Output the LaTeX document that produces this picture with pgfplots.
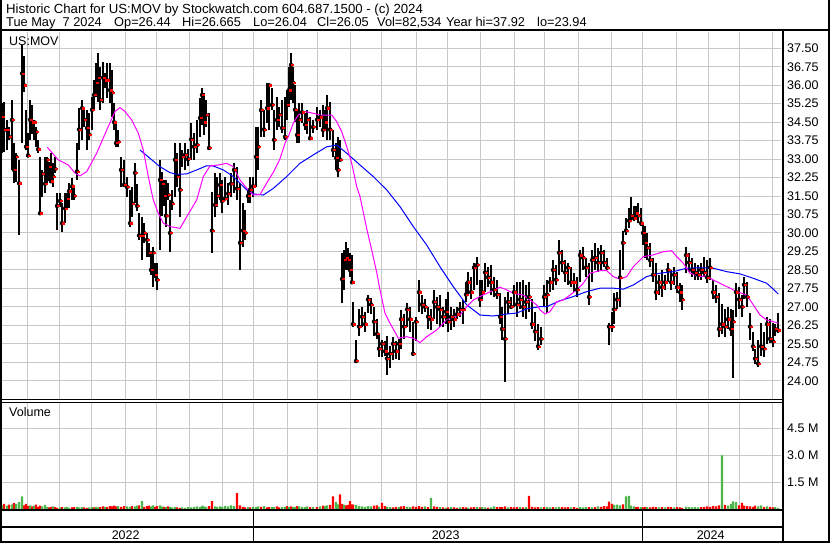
\documentclass[border=0pt]{standalone}
\usepackage{fontspec}
\setmainfont{Liberation Sans}
\usepackage{pgfplots}
\usepackage{pgfplotstable}
\pgfplotsset{compat=1.18}
\definecolor{gridgray}{RGB}{200,200,200}
\definecolor{volred}{RGB}{255,0,0}
\definecolor{volgreen}{RGB}{76,182,76}
\definecolor{mafast}{RGB}{255,0,255}
\definecolor{maslow}{RGB}{0,0,255}

% daily bars: x position, high, low, close, volume (M), up day
\pgfplotstableread{
x hi lo cl v up
2 35.27 33.24 34.72 0.22 1
4 35.33 33.30 34.20 0.30 0
7 34.59 33.37 34.18 0.20 1
9 34.32 33.78 33.90 0.26 0
12 35.40 32.56 34.59 0.28 1
14 33.64 32.02 32.56 0.34 0
16 33.24 32.08 33.10 0.30 1
19 32.97 29.92 32.02 0.40 1
22 37.63 33.64 36.48 0.72 1
24 37.20 35.74 36.00 0.22 0
26 35.00 33.37 33.50 0.30 0
28 34.05 33.10 33.15 0.18 0
30 35.40 33.78 34.60 0.22 1
32 35.20 34.00 34.50 0.16 0
34 34.59 33.78 34.50 0.20 1
36 34.32 33.50 34.10 0.26 0
38 33.78 33.24 33.40 0.14 0
40 33.10 30.73 30.80 0.20 0
42 32.56 31.48 32.40 0.16 1
45 33.10 31.61 32.00 0.24 1
47 33.10 32.02 32.97 0.12 1
49 32.90 32.10 32.70 0.10 0
51 33.24 32.02 32.10 0.14 0
53 32.83 31.88 32.30 0.16 1
55 33.10 32.42 32.60 0.12 0
57 31.62 30.12 31.10 0.08 0
60 31.62 31.06 31.30 0.10 1
62 31.22 30.05 30.40 0.12 0
65 31.62 30.40 31.00 0.10 1
67 31.62 31.00 31.40 0.14 1
69 32.03 31.00 31.70 0.08 1
72 32.23 31.34 31.90 0.10 0
74 31.87 31.34 31.50 0.12 0
77 33.65 32.15 32.50 0.14 1
79 35.07 33.37 34.20 0.10 1
82 35.40 33.78 35.07 0.12 1
84 34.99 34.30 34.60 0.10 0
87 34.99 33.37 34.26 0.08 0
89 34.87 33.78 34.00 0.10 1
92 35.52 34.18 35.00 0.12 1
94 36.21 34.99 35.60 0.10 0
96 36.90 35.52 36.10 0.14 1
98 37.31 35.30 36.30 0.10 1
100 36.74 34.99 35.40 0.12 0
103 36.94 35.28 36.30 0.16 0
105 36.50 35.90 36.20 0.14 1
107 36.90 35.50 36.20 0.12 0
110 36.90 35.28 35.80 0.18 0
112 36.60 34.70 35.70 0.16 0
114 35.28 34.18 34.50 0.20 0
116 34.47 33.49 33.65 0.16 0
118 34.18 33.49 33.70 0.18 1
121 33.09 31.87 32.56 0.14 0
124 32.97 31.87 31.95 0.18 0
127 32.27 31.46 31.87 0.16 1
130 31.75 30.24 30.40 0.14 1
132 31.87 30.65 31.20 0.18 0
135 32.84 31.22 32.44 0.16 1
137 32.00 30.90 31.10 0.20 1
139 30.81 29.72 29.90 0.22 0
142 30.65 28.90 29.90 0.45 1
144 30.40 29.60 30.00 0.14 0
147 30.00 29.03 29.72 0.18 0
149 29.60 29.03 29.20 0.20 0
151 29.23 28.29 28.50 0.16 1
153 29.43 27.81 29.20 0.22 1
155 28.78 28.17 28.30 0.14 0
157 28.78 27.69 28.10 0.18 0
160 32.97 29.31 32.15 0.22 1
162 32.48 30.69 32.00 0.16 1
164 32.15 31.10 31.50 0.14 0
166 32.15 30.24 30.70 0.12 1
168 32.03 31.34 31.54 0.16 0
170 31.34 29.23 30.00 0.14 1
172 31.75 30.94 31.20 0.10 1
175 33.65 31.46 32.97 0.12 1
177 33.25 31.87 32.30 0.10 0
180 33.65 30.65 31.75 0.08 0
182 33.37 32.68 33.10 0.10 1
185 33.65 32.56 33.17 0.08 1
188 33.40 32.70 33.00 0.12 1
191 34.47 32.97 33.80 0.10 1
194 34.06 32.97 33.50 0.14 1
197 34.59 33.25 33.57 0.16 1
200 35.48 33.90 34.67 0.12 1
202 35.89 34.39 35.60 0.20 1
204 35.68 33.98 34.50 0.16 1
206 35.40 34.30 34.79 0.14 1
209 34.87 33.37 33.45 0.18 0
212 31.66 29.19 30.10 0.45 0
215 32.44 30.65 31.14 0.16 1
217 32.27 31.06 31.50 0.14 1
220 32.44 31.34 31.95 0.16 1
222 32.15 30.81 31.30 0.14 1
225 32.27 31.34 31.40 0.18 1
228 32.03 31.14 31.60 0.16 1
231 32.44 31.46 32.00 0.22 1
234 32.84 31.62 32.56 0.18 1
237 32.68 31.34 31.80 0.90 0
240 32.03 28.50 29.60 0.22 0
243 31.22 29.43 30.10 0.14 0
245 30.94 29.72 30.00 0.10 0
248 31.75 31.22 31.50 0.12 1
250 32.27 31.22 31.75 0.10 0
253 32.27 31.46 31.90 0.14 1
256 34.30 31.87 33.09 0.12 1
258 34.30 32.56 33.50 0.16 1
261 35.40 33.90 34.99 0.14 0
264 34.99 33.90 34.20 0.18 1
267 36.09 34.47 35.07 0.10 0
269 36.00 34.18 36.00 0.12 0
272 35.89 34.99 35.20 0.14 1
274 34.99 33.37 33.78 0.12 1
277 35.52 34.18 34.59 0.16 0
279 35.12 34.30 34.80 0.10 0
282 35.40 34.06 34.26 0.12 1
285 35.52 33.78 33.90 0.14 1
287 35.80 34.60 35.20 0.18 0
289 36.74 35.12 35.80 0.12 1
291 37.31 35.40 36.82 0.16 0
293 36.74 35.28 36.10 0.14 1
295 36.00 34.50 35.00 0.12 1
297 34.99 33.65 33.98 0.18 0
299 35.28 33.65 34.60 0.16 1
302 35.28 34.47 34.90 0.14 1
305 34.87 34.18 34.40 0.12 1
307 35.00 34.00 34.60 0.16 1
310 34.71 33.78 33.85 0.12 0
313 34.59 34.05 34.30 0.14 1
317 35.12 34.18 34.60 0.12 0
320 34.99 34.30 34.70 0.16 1
323 35.20 33.90 34.18 0.20 0
325 35.00 34.20 34.50 0.18 1
327 35.60 33.78 35.07 0.22 1
330 35.32 33.78 34.20 0.24 0
333 34.18 33.09 33.37 0.72 0
336 33.65 32.56 33.05 0.40 1
338 33.90 32.27 32.56 0.28 1
340 33.78 32.97 32.97 0.83 0
342 29.19 27.16 28.13 0.30 0
344 29.31 27.69 28.90 0.26 1
346 29.64 28.50 29.00 0.22 0
348 29.40 28.50 28.90 0.24 0
350 29.19 28.21 28.50 0.45 0
352 29.10 27.97 28.00 0.28 0
353 27.20 26.20 26.30 0.26 0
356 25.66 24.78 24.80 0.24 1
359 26.90 25.80 26.20 0.18 1
362 27.00 26.20 26.60 0.16 1
365 26.80 26.00 26.30 0.14 1
368 27.50 26.75 27.30 0.18 1
371 27.35 26.70 27.10 0.16 1
374 27.00 25.80 26.40 0.20 0
377 26.50 25.70 25.90 0.22 0
379 25.95 24.98 25.30 0.14 1
382 25.66 24.98 25.50 0.35 0
385 25.60 25.00 25.20 0.18 0
387 25.80 24.24 24.90 0.14 1
390 25.40 24.50 25.10 0.12 1
393 25.79 24.84 25.50 0.10 0
396 25.60 24.90 25.20 0.14 0
399 25.70 24.84 25.50 0.12 1
401 26.88 25.30 26.50 0.16 0
404 26.70 25.70 26.20 0.18 0
407 27.15 26.20 26.90 0.14 1
410 27.00 26.00 26.50 0.12 1
413 26.40 25.00 25.10 0.16 0
416 26.60 25.60 26.40 0.14 0
419 28.09 26.80 27.60 0.18 0
422 27.50 26.70 27.10 0.14 0
425 27.30 26.80 27.00 0.16 1
428 27.00 26.10 26.60 0.12 0
431 26.90 26.06 26.50 0.64 1
434 27.69 26.50 27.20 0.16 0
437 27.40 26.30 27.00 0.14 0
440 27.50 26.20 26.90 0.12 1
443 27.00 26.20 26.60 0.10 0
446 27.30 26.30 26.80 0.08 1
448 27.62 26.00 26.40 0.10 0
451 27.00 26.06 26.60 0.12 1
454 26.90 26.20 26.50 0.10 0
457 27.00 26.50 26.70 0.08 0
460 27.20 26.60 26.90 0.10 1
463 27.28 26.30 26.90 0.12 0
466 28.00 27.20 27.50 0.10 0
468 28.43 27.50 28.00 0.08 1
471 28.20 27.30 27.60 0.10 0
474 28.80 27.70 28.60 0.12 0
477 29.04 27.90 28.70 0.14 1
480 28.10 27.00 27.30 0.10 0
482 28.10 27.30 27.60 0.12 1
485 28.77 27.60 28.40 0.10 1
488 28.60 27.80 28.20 0.08 0
491 28.70 27.50 28.00 0.10 1
494 28.20 27.40 27.70 0.16 1
497 28.10 27.30 27.50 0.12 0
500 27.55 26.30 26.60 0.14 0
502 27.00 25.66 26.10 0.12 0
505 27.40 23.96 25.70 0.16 0
508 27.60 26.70 27.20 0.10 1
511 27.40 26.90 27.00 0.12 0
514 27.90 27.00 27.60 0.10 0
517 28.00 26.60 27.10 0.12 0
520 28.00 26.90 27.30 0.14 1
523 28.10 26.60 27.00 0.10 0
526 27.90 26.50 27.20 0.12 1
529 28.00 26.80 27.40 0.75 0
532 27.30 26.10 26.30 0.14 0
535 26.80 25.60 26.00 0.10 0
538 26.30 25.25 25.40 0.12 0
541 26.20 25.45 25.70 0.10 1
544 27.90 27.00 27.40 0.12 0
547 28.09 26.74 27.50 0.14 1
550 28.20 27.60 28.00 0.10 1
553 28.90 27.70 28.50 0.12 0
556 28.70 27.90 28.10 0.10 1
559 29.72 28.30 29.20 0.14 1
562 29.30 28.40 28.80 0.12 0
565 28.90 28.00 28.40 0.10 0
568 28.77 27.90 28.60 0.12 0
571 28.60 27.81 28.00 0.10 1
574 28.37 27.60 28.00 0.12 0
577 28.20 27.42 27.70 0.08 0
580 29.30 28.00 29.10 0.12 1
583 29.43 28.50 29.00 0.10 1
586 29.00 28.23 28.60 0.14 1
589 28.77 27.08 27.40 0.12 0
592 29.30 28.00 28.90 0.10 1
595 29.60 28.50 29.00 0.12 0
598 29.40 28.40 28.80 0.16 1
601 29.50 28.50 29.20 0.14 0
604 29.31 28.60 28.80 0.18 0
607 29.00 28.50 28.60 0.16 0
609 26.33 25.45 26.20 0.42 0
612 26.80 26.00 26.20 0.30 0
614 27.55 26.30 26.90 0.24 1
617 27.60 26.90 27.30 0.26 1
620 29.31 27.00 28.20 0.22 1
623 30.10 28.50 29.60 0.28 0
626 30.60 29.90 30.10 0.72 1
629 31.00 30.20 30.50 0.75 1
631 31.46 30.50 30.70 0.20 1
634 31.10 30.50 30.60 0.16 1
636 31.10 30.60 30.80 0.12 0
638 31.20 30.40 30.70 0.14 0
641 31.00 30.30 30.40 0.12 1
643 30.40 29.50 30.00 0.10 0
645 30.30 29.00 29.60 0.14 0
647 30.00 28.90 29.40 0.12 1
650 29.60 28.62 28.90 0.10 0
653 29.00 28.00 28.30 0.14 0
656 28.77 27.28 27.60 0.12 0
659 28.30 27.50 28.00 0.10 1
662 28.50 27.42 27.80 0.12 0
665 28.30 27.70 28.00 0.10 1
668 28.77 28.00 28.50 0.14 0
671 28.50 27.69 28.00 0.12 0
674 28.62 27.90 28.30 0.10 1
677 28.40 27.55 27.80 0.12 0
680 27.96 27.20 27.60 0.10 0
682 27.90 26.88 27.30 0.08 0
686 29.43 28.37 29.10 0.14 1
689 29.18 28.40 28.80 0.12 1
692 29.00 28.23 28.50 0.10 1
695 28.77 28.10 28.40 0.12 1
698 28.70 28.10 28.30 0.10 1
701 28.77 28.09 28.50 0.12 0
704 29.04 28.20 28.40 0.14 0
707 28.90 27.96 28.20 0.16 0
710 29.00 28.10 28.60 0.14 0
713 28.09 27.30 27.60 0.18 0
716 27.90 27.15 27.40 0.16 0
719 27.55 25.79 26.10 0.22 0
722 27.10 25.90 26.30 3.00 1
725 26.90 25.79 26.20 0.24 0
728 27.01 26.10 26.50 0.20 1
731 26.90 25.80 26.10 0.30 1
733 26.88 24.11 26.40 0.44 1
736 27.96 26.60 27.60 0.40 1
739 27.80 26.90 27.30 0.22 0
742 27.50 26.60 27.00 0.35 0
744 28.23 27.30 27.90 0.20 0
747 28.00 27.01 27.40 0.18 0
750 26.74 25.66 26.20 0.16 0
753 26.00 25.20 25.40 0.14 0
755 25.30 24.70 24.90 0.20 0
758 25.66 24.57 24.70 0.16 1
761 26.33 25.00 25.40 0.22 1
764 26.00 24.98 25.30 0.14 0
767 26.60 25.50 26.30 0.16 1
770 26.50 25.52 25.70 0.14 0
773 26.33 25.38 25.60 0.10 0
775 26.30 25.80 26.10 0.12 1
778 26.74 25.93 26.05 0.08 1
}\bars

% short moving average
\pgfplotstableread{
x y
47.3 33.48
58.3 32.97
68.3 32.76
75 32.43
80 32.32
86.7 32.49
96.7 33.24
106.7 34.18
115 34.93
120 35.09
125 34.93
131.7 34.59
138.3 34.05
143.3 33.37
148.3 32.29
153.3 31.34
158.3 30.80
163.3 30.40
170 30.26
180 30.19
186.7 30.66
196.7 31.34
203.3 32.29
210 32.72
218.3 32.76
226.7 32.83
233.3 32.69
240 32.15
246.7 31.82
253.3 31.54
260 31.56
266.7 32.03
273.3 32.46
280 33.01
285 33.64
288.3 33.91
293.3 34.46
298.3 34.79
305 34.93
313.3 34.86
320 34.79
331.7 34.79
336.7 34.52
341.7 34.11
346.7 33.51
351.7 32.83
356.7 31.88
360 31.48
366.7 30.18
371.7 29.31
376.7 28.40
380 27.69
385 26.74
390 26.34
398.3 25.73
406.7 25.79
413.3 25.73
420 25.55
426.7 25.79
436.7 26.06
446.7 26.47
453.3 26.58
460 26.67
466.7 27.01
473.3 27.28
486.7 27.55
500 27.80
506.7 27.69
513.3 27.55
523.3 27.48
530 27.28
536.7 27.08
540 26.88
545 26.71
550 26.81
556.7 27.21
563.3 27.28
570 27.48
576.7 27.69
583.3 27.96
590 28.37
600 28.47
606.7 28.47
613.3 28.23
620 28.12
626.7 28.23
633.3 28.63
643.3 29.04
653.3 29.11
663.3 29.24
671.7 29.28
676.7 29.04
683.3 28.77
690 28.37
700 28.23
706.7 28.26
713.3 28.09
720 27.96
730 27.76
736.7 27.62
746.7 27.48
753.3 27.08
760 26.67
766.7 26.47
773.3 26.40
778.3 26.34
}\mafast

% long moving average
\pgfplotstableread{
x y
140 33.37
150 33.03
160 32.69
170 32.45
176.7 32.38
186.7 32.40
196.7 32.56
206.7 32.73
213.3 32.72
223.3 32.56
233.3 32.29
240 32.02
246.7 31.75
253.3 31.59
263.3 31.54
273.3 31.81
286.7 32.29
300 32.83
313.3 33.17
326.7 33.50
336.7 33.57
346.7 33.24
360 32.76
373.3 32.29
386.7 31.75
400 31.07
413.3 30.26
426.7 29.51
440 28.63
453.3 27.82
466.7 27.08
480 26.67
493.3 26.63
506.7 26.71
516.7 26.75
526.7 26.92
540 27.01
546.7 27.01
560 27.25
573.3 27.42
586.7 27.62
600 27.76
613.3 27.76
623.3 27.72
633.3 27.89
646.7 28.23
660 28.37
673.3 28.43
686.7 28.57
700 28.59
713.3 28.57
726.7 28.43
740 28.34
753.3 28.16
766.7 27.96
773.3 27.72
778.3 27.52
}\maslow

\pgfplotsset{
  chartbase/.style={
    scale only axis, width=781bp,
    xmin=0, xmax=781,
    axis line style={draw=none},
    tick style={draw=none},
    xtick={27.3,59.3,91.3,125.3,156.3,189.3,222.3,253.3,287.3,317.3,350,381,416.3,447.3,480.3,514.7,544.3,578.7,611,642.3,676.3,708.7,739.3,772.7},
    xticklabels={},
    xmajorgrids, ymajorgrids,
    grid style={gridgray, line width=1bp},
    yticklabel pos=right,
    yticklabel style={anchor=west, inner sep=0pt, xshift=6bp, font=\fontsize{12.5bp}{14bp}\selectfont},
  }
}

\begin{document}
\begin{tikzpicture}
\useasboundingbox (0bp,0bp) rectangle (830bp,543bp);
\fill[white] (0bp,0bp) rectangle (830bp,543bp);

% price panel
\begin{axis}[chartbase,
  at={(0bp,143bp)}, anchor=south west, height=368bp,
  ymin=23.22, ymax=38.16,
  ytick={24,24.75,25.5,26.25,27,27.75,28.5,29.25,30,30.75,31.5,32.25,33,33.75,34.5,35.25,36,36.75,37.5},
  yticklabel style={/pgf/number format/.cd, fixed, fixed zerofill, precision=2, assume math mode=true},
]
\addplot[only marks, mark=none,
  error bars/.cd, y dir=both, y explicit, error mark=none,
  error bar style={black, line width=1.4bp}]
  table[x=x, y=cl, y error plus expr=\thisrow{hi}-\thisrow{cl}, y error minus expr=\thisrow{cl}-\thisrow{lo}] {\bars};
\addplot[only marks, mark=square*, mark size=0.6bp, color=red, mark options={xshift=1.2bp, draw=none, fill=red}]
  table[x=x, y=cl] {\bars};
\addplot[maslow, line width=1bp] table[x=x, y=y] {\maslow};
\addplot[mafast, line width=1bp] table[x=x, y=y] {\mafast};
\end{axis}

% volume panel
\begin{axis}[chartbase,
  at={(0bp,33.7bp)}, anchor=south west, height=107bp,
  ymin=0, ymax=5.94,
  ytick={1.5,3,4.5}, yticklabels={1.5 M,3.0 M,4.5 M},
]
\addplot[ybar, bar width=2.2bp, bar shift=0pt, fill=volred, draw=none,
  restrict expr to domain={\thisrow{up}}{0:0}] table[x=x, y=v] {\bars};
\addplot[ybar, bar width=2.2bp, bar shift=0pt, fill=volgreen, draw=none,
  restrict expr to domain={\thisrow{up}}{1:1}] table[x=x, y=v] {\bars};
\end{axis}

% frame
\begin{scope}[x=1bp, y=1bp]
\draw[line width=2bp] (0,512.5) -- (830,512.5);
\draw[line width=2bp] (1,0) -- (1,543);
\draw[line width=2bp] (829,0) -- (829,543);
\draw[line width=2bp] (0,1.5) -- (830,1.5);
\draw[line width=2.5bp] (783,0) -- (783,512.5);
\draw[line width=1bp] (0,143) -- (782,143);
\draw[line width=1bp] (0,140.6) -- (782,140.6);
\draw[line width=2bp] (0,33) -- (782,33);
\draw[line width=2bp] (0,16) -- (782,16);
\draw[line width=1.3bp] (253.3,2) -- (253.3,33);
\draw[line width=1.3bp] (642.3,2) -- (642.3,33);

% texts
\begin{scope}[every node/.style={inner sep=0pt, font=\fontsize{12.5bp}{14bp}\selectfont}]
\node[anchor=base west, font=\fontsize{13.2bp}{15bp}\selectfont] at (6,529.5) {Historic Chart for US:MOV by Stockwatch.com 604.687.1500 - (c) 2024};
\begin{scope}[every node/.append style={font=\fontsize{12.8bp}{15bp}\selectfont}]
\node[anchor=base west] at (6,516) {Tue May\ \ 7 2024};
\node[anchor=base west] at (114,516) {Op=26.44};
\node[anchor=base west] at (182,516) {Hi=26.665};
\node[anchor=base west] at (253,516) {Lo=26.04};
\node[anchor=base west] at (317,516) {Cl=26.05};
\node[anchor=base west] at (377,516) {Vol=82,534};
\node[anchor=base west] at (446,516) {Year hi=37.92};
\node[anchor=base west] at (537,516) {lo=23.94};
\end{scope}
\node[anchor=base west] at (9,497) {US:MOV};
\node[anchor=base west] at (9,126.3) {Volume};
\node[anchor=base] at (125.7,3.7) {2022};
\node[anchor=base] at (445.7,3.7) {2023};
\node[anchor=base] at (710.7,3.7) {2024};
\end{scope}
\end{scope}
\end{tikzpicture}
\end{document}
